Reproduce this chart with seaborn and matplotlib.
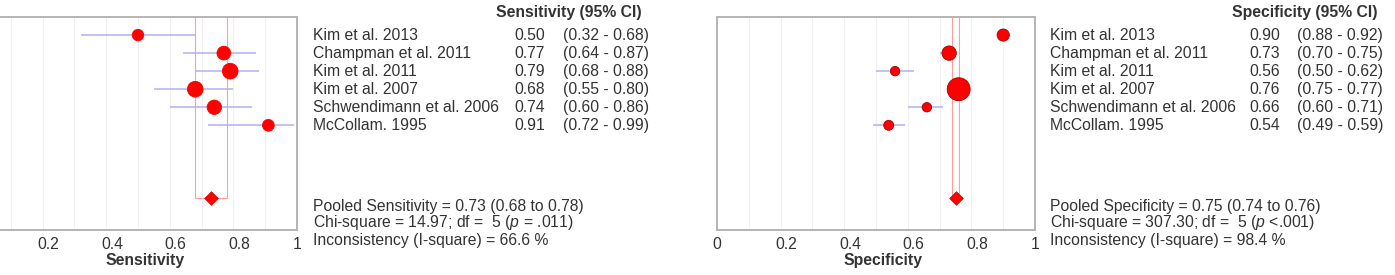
import numpy as np
import pandas as pd
import matplotlib
matplotlib.use("Agg")
import matplotlib.pyplot as plt
import matplotlib.transforms as mtrans
import seaborn as sns

studies = ["Kim et al. 2013", "Champman et al. 2011", "Kim et al. 2011",
           "Kim et al. 2007", "Schwendimann et al. 2006", "McCollam. 1995"]

sens = [0.50, 0.77, 0.79, 0.68, 0.74, 0.91]
sens_lo = [0.32, 0.64, 0.68, 0.55, 0.60, 0.72]
sens_hi = [0.68, 0.87, 0.88, 0.80, 0.86, 0.99]
sens_w = [11.4, 16.3, 21.2, 21.2, 17.9, 12.0]
sens_pool = [0.73, 0.68, 0.78]
sens_stats = ["Pooled Sensitivity = 0.73 (0.68 to 0.78)",
              "Chi-square = 14.97; df =  5 ($\\it{p}$ = .011)",
              "Inconsistency (I-square) = 66.6 %"]

spec = [0.90, 0.73, 0.56, 0.76, 0.66, 0.54]
spec_lo = [0.88, 0.70, 0.50, 0.75, 0.60, 0.49]
spec_hi = [0.92, 0.75, 0.62, 0.77, 0.71, 0.59]
spec_w = [12.8, 17.8, 7.6, 45.5, 7.6, 8.6]
spec_pool = [0.75, 0.74, 0.76]
spec_stats = ["Pooled Specificity = 0.75 (0.74 to 0.76)",
              "Chi-square = 307.30; df =  5 ($\\it{p}$ <.001)",
              "Inconsistency (I-square) = 98.4 %"]

xticks = [0, 0.2, 0.4, 0.6, 0.8, 1]
xtick_labels = ["0", "0.2", "0.4", "0.6", "0.8", "1"]

sns.set_style("white")
plt.rcParams['font.family'] = ['Liberation Sans', 'DejaVu Sans']
plt.rcParams['mathtext.fontset'] = 'custom'
plt.rcParams['mathtext.it'] = 'Liberation Sans:italic'
plt.rcParams['mathtext.rm'] = 'Liberation Sans'

W, H = 1395, 275
fig = plt.figure(figsize=(W / 100, H / 100), dpi=100)
TXT = "#333333"
FS = 11.3


def px(x, y):
    return x / W, 1 - y / H


def panel(left_px, right_px, vals, lo, hi, w, pool, stats, label, header,
          name_x, val_x, ci_x, head_end, edge):
    top, bot = 17, 230
    width = right_px - left_px
    ax = fig.add_axes([left_px / W, 1 - bot / H, width / W, (bot - top) / H])
    ypos = list(range(len(vals)))
    df = pd.DataFrame({"study": studies, "val": vals, "y": ypos, "w": w})
    for g in np.arange(0.1, 1.0, 0.1):
        ax.axvline(g, color="#f0f0f0", lw=0.8, zorder=0)
    # pooled CI box
    ax.vlines([pool[1], pool[2]], -1, 9, color="#ff9c9c", lw=0.8, zorder=1)
    ax.hlines(9, pool[1], pool[2], color="#ff9c9c", lw=0.8, zorder=1)
    ax.hlines(ypos, lo, hi, color="#b0b0f5", lw=1.1, zorder=2)
    sns.scatterplot(data=df, x="val", y="y", size="w", sizes=(0, 300),
                    size_norm=(0, 50), color="#ff0000", edgecolor=edge,
                    linewidth=0.6, legend=False, ax=ax, zorder=3)
    ax.scatter([pool[0]], [9], marker="D", s=48, color="#ff0000",
               edgecolor="#d00000", linewidth=0.5, zorder=4)
    ax.set_xlim(0, 1)
    ax.set_ylim(10.8, -1)
    ax.set_yticks([])
    ax.set_xticks(xticks)
    ax.set_xticklabels(xtick_labels, fontsize=FS, color=TXT)
    ax.tick_params(axis="x", length=0, pad=5)
    shift = mtrans.ScaledTranslation(6 / 100, 0, fig.dpi_scale_trans)
    labs = ax.get_xticklabels()
    for lab in labs[1:-1]:
        lab.set_transform(lab.get_transform() + shift)
    if left_px < 0:
        labs[0].set_visible(False)
    ax.set_xlabel(label, fontsize=FS, fontweight="bold", color=TXT, labelpad=1)
    ax.xaxis.label.set_x(0.5 + 7 / width)
    ax.set_ylabel("")
    for s in ax.spines.values():
        s.set_color("#b4b4b4")
        s.set_linewidth(1.4)
    tr = mtrans.blended_transform_factory(fig.transFigure, ax.transData)
    for i, name in enumerate(studies):
        ax.text(name_x / W, i, name, transform=tr, fontsize=FS, color=TXT,
                va="center", ha="left")
        ax.text(val_x / W, i, f"{vals[i]:.2f}", transform=tr, fontsize=FS,
                color=TXT, va="center", ha="left")
        ax.text(ci_x / W, i, f"({lo[i]:.2f} - {hi[i]:.2f})", transform=tr,
                fontsize=FS, color=TXT, va="center", ha="left")
    fig.text(*px(head_end, 12), header, fontsize=FS, fontweight="bold",
             color=TXT, ha="right", va="center")
    for k, line in enumerate(stats):
        fig.text(*px(name_x, 206 + 17 * k), line, fontsize=FS, color=TXT,
                 ha="left", va="center")
    return ax


panel(-21, 297, sens, sens_lo, sens_hi, sens_w, sens_pool, sens_stats,
      "Sensitivity", "Sensitivity (95% CI)", 313, 514, 563, 642, "#ff0000")
panel(717, 1035, spec, spec_lo, spec_hi, spec_w, spec_pool, spec_stats,
      "Specificity", "Specificity (95% CI)", 1050, 1249, 1297, 1378, "#a00000")

fig.savefig("out.png", dpi=100)
